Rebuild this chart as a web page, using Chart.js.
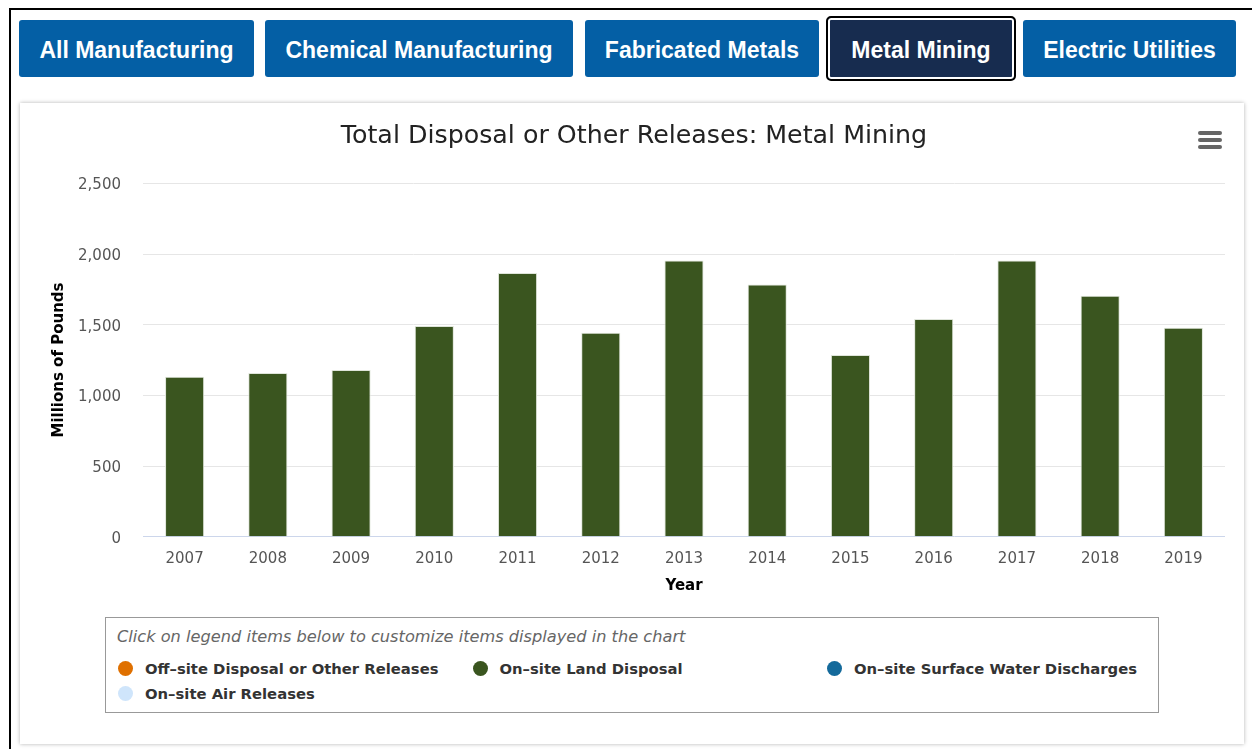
<!DOCTYPE html>
<html>
<head>
<meta charset="utf-8">
<title>Total Disposal or Other Releases: Metal Mining</title>
<script src="https://cdn.jsdelivr.net/npm/chart.js@4.4.1/dist/chart.umd.min.js"></script>
<style>
    html, body { margin: 0; padding: 0; background: #fff; width: 1252px; height: 749px; overflow: hidden; }
    .frame { position: absolute; left: 9px; top: 8px; width: 1300px; height: 800px; border: 2px solid #000; }
    .btn {
        position: absolute; top: 20px; height: 57px; box-sizing: border-box; padding-top: 3px;
        background: #045fa5; color: #fff; border-radius: 3px;
        font: bold 23px "Liberation Sans", Arial, sans-serif;
        display: flex; align-items: center; justify-content: center;
    }
    .btn.active {
        top: 16px; height: 65px; background: #172c4f;
        border: 2px solid #000; box-shadow: inset 0 0 0 2px #fff; border-radius: 5px;
    }
    .card {
        position: absolute; left: 20px; top: 103px; width: 1224px; height: 641px;
        background: #fff; box-shadow: 0 0 4px rgba(0, 0, 0, 0.3);
    }
    #chartWrap { position: absolute; left: 20px; top: 104px; width: 1220px; height: 500px; }
    .menu { position: absolute; left: 1198px; top: 131px; width: 24px; }
    .menu span { display: block; height: 3.5px; background: #666; border-radius: 2px; margin-bottom: 3.5px; }
    .legend {
        position: absolute; left: 105px; top: 617px; width: 1054px; height: 96px;
        box-sizing: border-box; border: 1px solid #999; background: #fff;
        font-family: "DejaVu Sans", sans-serif;
    }
    .legend .title {
        position: absolute; left: 11px; top: 9px; line-height: 20px;
        font-size: 16.2px; font-style: italic; color: #666; white-space: nowrap;
    }
    .legend .item {
        position: absolute; height: 20px; display: flex; align-items: center;
        font-size: 14.8px; font-weight: bold; color: #333; cursor: pointer; white-space: nowrap;
    }
    .legend .item i { display: inline-block; width: 15px; height: 15px; border-radius: 50%; margin-right: 12px; }
    .legend .item.off { color: #ccc; }
    .legend .item.off i { background: #ccc !important; }
</style>
</head>
<body>
<div class="frame"></div>

<div class="btn" style="left:19px; width:235px;">All Manufacturing</div>
<div class="btn" style="left:265px; width:308px;">Chemical Manufacturing</div>
<div class="btn" style="left:585px; width:234px;">Fabricated Metals</div>
<div class="btn active" style="left:826px; width:190px;">Metal Mining</div>
<div class="btn" style="left:1023px; width:213px;">Electric Utilities</div>

<div class="card"></div>
<div id="chartWrap"><canvas id="releasesChart"></canvas></div>
<div class="menu"><span></span><span></span><span></span></div>
<div class="legend" id="legendBox">
    <div class="title">Click on legend items below to customize items displayed in the chart</div>
</div>

<script>
// values in millions of pounds
const years = ['2007', '2008', '2009', '2010', '2011', '2012', '2013', '2014', '2015', '2016', '2017', '2018', '2019'];
const landDisposal = [1132, 1158, 1180, 1490, 1866, 1443, 1955, 1785, 1285, 1540, 1955, 1705, 1478];
// the other categories are too small to show at this scale
const offsiteDisposal = [0, 0, 0, 0, 0, 0, 0, 0, 0, 0, 0, 0, 0];
const surfaceWater = [0, 0, 0, 0, 0, 0, 0, 0, 0, 0, 0, 0, 0];
const airReleases = [0, 0, 0, 0, 0, 0, 0, 0, 0, 0, 0, 0, 0];
const yTicks = [0, 500, 1000, 1500, 2000, 2500];

document.addEventListener('DOMContentLoaded', function () {
    Chart.defaults.font.family = '"DejaVu Sans", sans-serif';
    Chart.defaults.color = '#555';

    const ctx = document.getElementById('releasesChart').getContext('2d');

    const chart = new Chart(ctx, {
        type: 'bar',
        data: {
            labels: years,
            datasets: [
                { label: 'Off-site Disposal or Other Releases', data: offsiteDisposal, backgroundColor: '#df7000', borderWidth: 0 },
                { label: 'On-site Land Disposal', data: landDisposal, backgroundColor: '#3a551f', borderColor: '#dfe5da', borderWidth: 1 },
                { label: 'On-site Surface Water Discharges', data: surfaceWater, backgroundColor: '#146a9b', borderWidth: 0 },
                { label: 'On-site Air Releases', data: airReleases, backgroundColor: '#cfe5fb', borderWidth: 0 }
            ]
        },
        options: {
            responsive: true,
            maintainAspectRatio: false,
            animation: false,
            layout: { padding: { left: 23, right: 15, top: 0, bottom: 0 } },
            datasets: { bar: { barPercentage: 0.47, categoryPercentage: 1.0 } },
            plugins: {
                legend: { display: false },
                tooltip: { enabled: true },
                title: {
                    display: true,
                    text: 'Total Disposal or Other Releases: Metal Mining',
                    color: '#222222',
                    font: { size: 25.3, weight: 'normal' },
                    padding: { top: 17, bottom: 32 }
                }
            },
            scales: {
                x: {
                    stacked: true,
                    grid: { display: false, drawTicks: false },
                    border: { display: false },
                    ticks: { color: '#555', font: { size: 15 }, padding: 13 },
                    title: {
                        display: true, text: 'Year', color: '#000',
                        font: { size: 15, weight: 'bold' }, padding: { top: 0, bottom: 9 }
                    },
                    afterFit: (scale) => { scale.height = 67.3; }
                },
                y: {
                    stacked: true,
                    min: 0,
                    max: 2500,
                    afterBuildTicks: (scale) => { scale.ticks = yTicks.map(v => ({ value: v })); },
                    grid: {
                        drawTicks: false,
                        color: (c) => c.tick && c.tick.value === 0 ? '#ccd6eb' : '#e6e6e6'
                    },
                    border: { display: false },
                    ticks: {
                        color: '#555', font: { size: 15 }, padding: 22, labelOffset: 2,
                        callback: (value) => value.toLocaleString('en-US')
                    },
                    title: {
                        display: true, text: 'Millions of Pounds', color: '#000',
                        font: { size: 15, weight: 'bold' }, padding: { top: 7, bottom: 0 }
                    },
                    afterFit: (scale) => { scale.width = 100; }
                }
            }
        }
    });

    buildLegend(chart);

    // html legend, three items per row like the original
    function buildLegend(chart) {
        const box = document.getElementById('legendBox');
        chart.data.datasets.forEach((ds, i) => {
            const item = document.createElement('div');
            item.className = 'item';
            item.style.left = (12 + (i % 3) * 354.5) + 'px';
            item.style.top = (40 + Math.floor(i / 3) * 25) + 'px';
            item.innerHTML = '<i style="background:' + ds.backgroundColor + '"></i>' + ds.label.replace(/-/g, '\u2013');
            item.addEventListener('click', () => {
                const visible = chart.isDatasetVisible(i);
                chart.setDatasetVisibility(i, !visible);
                item.classList.toggle('off', visible);
                chart.update();
            });
            box.appendChild(item);
        });
    }
});
</script>
</body>
</html>
